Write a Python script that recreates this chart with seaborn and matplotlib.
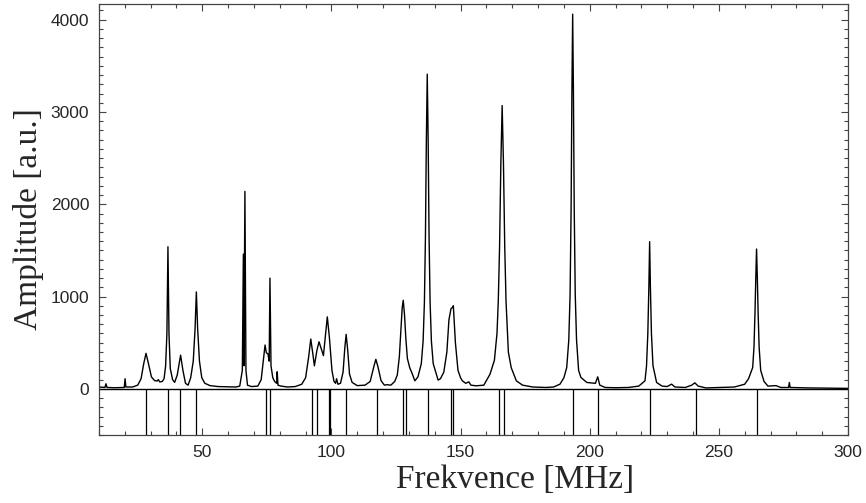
import numpy as np
import pandas as pd
import matplotlib
matplotlib.use('Agg')
import matplotlib.pyplot as plt
import seaborn as sns
from matplotlib.ticker import MultipleLocator

# spectrum: frequency [MHz] and amplitude [a.u.]
freq = [10, 12.3, 12.7, 13.1, 16, 19.8, 20.1, 20.4, 23, 25, 26.3, 27.3, 28.2, 29.1, 30.3, 31.5,
        32.5, 33, 33.5, 34.5, 35.2, 35.8, 36.3, 36.7, 37.1, 37.6, 38.5, 39.3, 40.3, 41.6, 42.5,
        43.5, 44.5, 45.5, 46.5, 47.2, 47.7, 48.2, 48.9, 49.8, 51, 53, 56, 60, 63, 64.5, 65.5,
        65.9, 66.1, 66.5, 66.9, 67.5, 69, 71.5, 72.8, 73.6, 74.3, 74.8, 75.4, 75.9, 76.2, 76.6,
        77.3, 78, 78.8, 79.0, 79.3, 80.5, 83, 86, 88.5, 90, 91.2, 92.0, 92.8, 93.4, 94.4, 95.2,
        96.1, 96.9, 97.6, 98.4, 99.2, 100.2, 101, 101.6, 102, 102.5, 103.5, 104.5, 105.2, 105.7,
        106.3, 107, 108, 110, 113, 115, 116.5, 117.2, 118, 119.2, 120.5, 121.5, 123, 124.5,
        125.5, 126.3, 126.9, 127.4, 127.8, 128.3, 128.8, 129.4, 130.3, 131.2, 132.3, 133.5,
        134.8, 135.5, 136.0, 136.4, 136.75, 137.1, 137.45, 137.8, 138.2, 138.7, 139.4, 140.2,
        141.3, 142.2, 143.5, 144.7, 145.5, 146.3, 146.8, 147.2, 148.0, 149, 150, 150.7, 152,
        153.2, 154, 156, 159, 161.4, 163.1, 164.1, 164.6, 165.1, 165.6, 166.1, 166.6, 167.1,
        167.6, 168.5, 169.6, 171.6, 174, 178, 183, 186, 188.5, 190.0, 191.1, 191.9, 192.4,
        192.8, 193.1, 193.4, 193.7, 194.0, 194.4, 194.9, 195.7, 196.6, 198.9, 202.2, 203.1,
        203.9, 206, 210, 215, 219, 221.4, 222.0, 222.5, 222.9, 223.2, 223.5, 223.9, 224.5,
        225.9, 228, 230, 231.7, 233, 237, 239.5, 240.7, 242, 245, 250, 256, 260, 261.5, 263.1,
        263.6, 264.0, 264.3, 264.6, 264.9, 265.2, 265.6, 266.2, 267.5, 269, 272.1, 274, 277.0,
        277.3, 277.6, 285, 290, 300]
amp = [20, 15, 55, 15, 12, 15, 110, 20, 20, 40, 110, 270, 385, 280, 130, 90,
       85, 100, 75, 80, 110, 250, 600, 1540, 600, 220, 100, 70, 150, 365, 200,
       60, 40, 120, 300, 650, 1050, 650, 300, 120, 60, 35, 25, 22, 20, 30, 200,
       1460, 250, 2140, 200, 40, 25, 30, 100, 300, 475, 390, 380, 300, 1200, 250,
       120, 80, 60, 185, 40, 30, 20, 25, 50, 120, 350, 540, 380, 250, 420, 510,
       430, 360, 560, 780, 560, 200, 80, 60, 110, 50, 60, 180, 450, 590,
       420, 160, 70, 35, 40, 80, 250, 320, 240, 90, 40, 45, 40, 80,
       150, 350, 650, 880, 960, 800, 550, 330, 230, 170, 87, 130,
       274, 520, 940, 1650, 2690, 3410, 2690, 1650, 940, 520, 274, 200,
       95, 110, 180, 400, 750, 870, 880, 900, 500, 200, 120, 87, 60,
       76, 40, 33, 40, 159, 310, 600, 950, 1540, 2450, 3070, 2450, 1540,
       950, 400, 230, 87, 40, 20, 15, 20, 51, 120, 231, 530, 1020,
       1960, 3200, 4060, 3200, 1960, 1020, 530, 200, 123, 69, 60, 130,
       40, 15, 12, 15, 30, 87, 250, 600, 1100, 1595, 1100, 600, 250,
       69, 30, 25, 51, 20, 15, 40, 65, 30, 10, 15, 20, 50, 110, 231,
       450, 830, 1200, 1515, 1200, 830, 450, 200, 80, 30, 35, 15, 15,
       69, 15, 10, 8, 5]

# marker lines under the zero line
lines = [28.2, 36.7, 41.5, 47.7, 74.5, 76.4, 92.6, 94.5, 98.9, 99.4, 105.6, 117.7,
         127.6, 128.9, 137.2, 146.4, 147.2, 165.0, 166.8, 193.4, 203.3, 223.3, 241.0, 264.6]

df = pd.DataFrame({'freq': freq, 'amp': amp})

sns.set_style('ticks')
plt.rcParams['font.family'] = ['Liberation Sans', 'DejaVu Sans']

fig = plt.figure(figsize=(8.66, 5.03), dpi=100)
ax = fig.add_axes([0.1143, 0.1352, 0.8649, 0.8568])

sns.lineplot(x='freq', y='amp', data=df, color='black', linewidth=1.0, ax=ax,
             estimator=None, sort=False)
ax.axhline(0, color='black', linewidth=1.0)
ax.vlines(lines, -500, 0, color='black', linewidth=0.9)

ax.set_xlim(10, 300)
ax.set_ylim(-500, 4170)
ax.set_xticks([50, 100, 150, 200, 250, 300])
ax.set_yticks([0, 1000, 2000, 3000, 4000])
ax.xaxis.set_minor_locator(MultipleLocator(10))
ax.yaxis.set_minor_locator(MultipleLocator(100))
ax.tick_params(which='both', direction='in', top=True, right=True, color='#444444')
ax.tick_params(which='major', length=4.8, width=0.8, labelsize=12.5, pad=7)
ax.tick_params(which='minor', length=2.8, width=0.8)
for s in ax.spines.values():
    s.set_linewidth(0.9)
    s.set_color('#444444')

ax.set_xlabel('Frekvence [MHz]', family=['Liberation Serif'], fontsize=24)
ax.xaxis.set_label_coords(0.555, -0.068)
ax.set_ylabel('Amplitude [a.u.]', family=['Liberation Serif'], fontsize=24, labelpad=5)

plt.savefig('out.png', dpi=100)
